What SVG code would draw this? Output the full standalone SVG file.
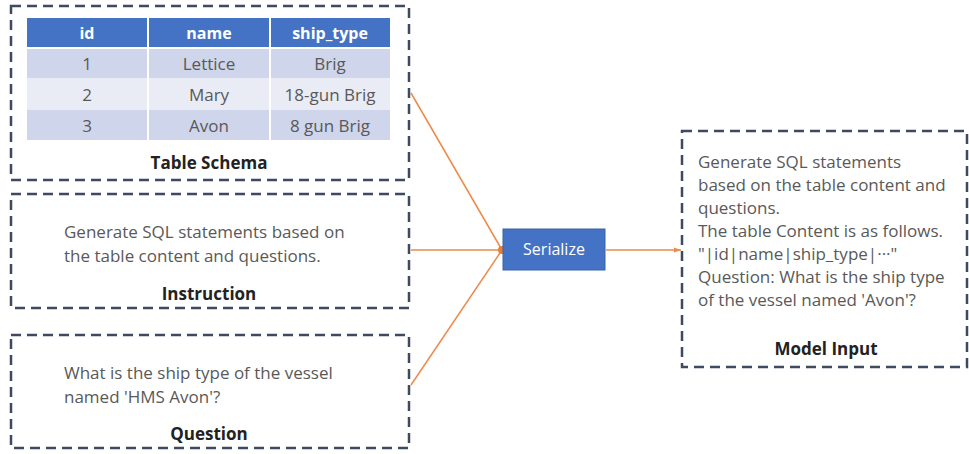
<svg xmlns="http://www.w3.org/2000/svg" width="969" height="454" viewBox="0 0 969 454">
<style>
.box{fill:#fff;stroke:#3e4a5f;stroke-width:2.5;stroke-dasharray:10 6}
.t{font-family:"Open Sans","Liberation Sans",Arial,sans-serif;font-size:17px;fill:#595959}
.lbl{font-family:"Open Sans","Liberation Sans",Arial,sans-serif;font-size:17px;font-weight:bold;fill:#222;text-anchor:middle}
.hd{font-family:"Open Sans","Liberation Sans",Arial,sans-serif;font-size:16px;font-weight:bold;fill:#fff;text-anchor:middle}
.cell{font-family:"Open Sans","Liberation Sans",Arial,sans-serif;font-size:17px;fill:#595959;text-anchor:middle}
.ln{stroke:#ed8a4a;stroke-width:1.5;fill:none}
</style>
<defs>
<marker id="arr" markerWidth="8" markerHeight="8" refX="7" refY="4" orient="auto" markerUnits="userSpaceOnUse">
<path d="M0,1.5 L7,4 L0,6.5 z" fill="#ed8a4a"/>
</marker>
</defs>
<rect width="969" height="454" fill="#fff"/>
<g id="connectors">
<line class="ln" x1="411" y1="93" x2="502" y2="250"/>
<line class="ln" x1="411" y1="250" x2="502" y2="250"/>
<line class="ln" x1="411" y1="385" x2="502" y2="250"/>
<circle cx="502" cy="250" r="4" fill="#ed7d31"/>
<line class="ln" x1="606" y1="250" x2="681" y2="250" marker-end="url(#arr)"/>
</g>
<g id="table-schema">
<rect class="box" x="11" y="6" width="398" height="174"/>
<rect x="27" y="18" width="363" height="30" fill="#4472c4"/>
<rect x="27" y="48" width="363" height="30" fill="#cfd5ea"/>
<rect x="27" y="78" width="363" height="32" fill="#e9ebf5"/>
<rect x="27" y="110" width="363" height="30" fill="#cfd5ea"/>
<line x1="148" y1="18" x2="148" y2="140" stroke="#fff" stroke-width="2"/>
<line x1="270" y1="18" x2="270" y2="140" stroke="#fff" stroke-width="2"/>
<line x1="27" y1="48" x2="390" y2="48" stroke="#fff" stroke-width="2"/>
<text class="hd" x="87" y="39">id</text>
<text class="hd" x="209" y="39">name</text>
<text class="hd" x="330" y="39">ship_type</text>
<text class="cell" x="87" y="70">1</text>
<text class="cell" x="209" y="70">Lettice</text>
<text class="cell" x="330" y="70">Brig</text>
<text class="cell" x="87" y="101">2</text>
<text class="cell" x="209" y="101">Mary</text>
<text class="cell" x="330" y="101">18-gun Brig</text>
<text class="cell" x="87" y="132">3</text>
<text class="cell" x="209" y="132">Avon</text>
<text class="cell" x="330" y="132">8 gun Brig</text>
<text class="lbl" x="209" y="169">Table Schema</text>
</g>
<g id="instruction">
<rect class="box" x="11" y="194" width="398" height="114"/>
<text class="t" x="64" y="238">Generate SQL statements based on</text>
<text class="t" x="64" y="262">the table content and questions.</text>
<text class="lbl" x="209" y="300">Instruction</text>
</g>
<g id="question">
<rect class="box" x="11" y="335" width="398" height="113"/>
<text class="t" x="64" y="379">What is the ship type of the vessel</text>
<text class="t" x="64" y="403">named 'HMS Avon'?</text>
<text class="lbl" x="209" y="440">Question</text>
</g>
<g id="serialize">
<rect x="503" y="229" width="102" height="41" fill="#4472c4" stroke="#3a62a8" stroke-width="1"/>
<text x="554" y="255" font-family="Open Sans,Liberation Sans,Arial,sans-serif" font-size="16" fill="#fff" text-anchor="middle">Serialize</text>
</g>
<g id="model-input">
<rect class="box" x="682" y="131" width="285" height="236"/>
<text class="t" x="698" y="168">Generate SQL statements</text>
<text class="t" x="698" y="191">based on the table content and</text>
<text class="t" x="698" y="214">questions.</text>
<text class="t" x="698" y="237">The table Content is as follows.</text>
<text class="t" x="698" y="260">"|id|name|ship_type|···"</text>
<text class="t" x="698" y="283">Question: What is the ship type</text>
<text class="t" x="698" y="306">of the vessel named 'Avon'?</text>
<text class="lbl" x="826" y="355">Model Input</text>
</g>
</svg>
